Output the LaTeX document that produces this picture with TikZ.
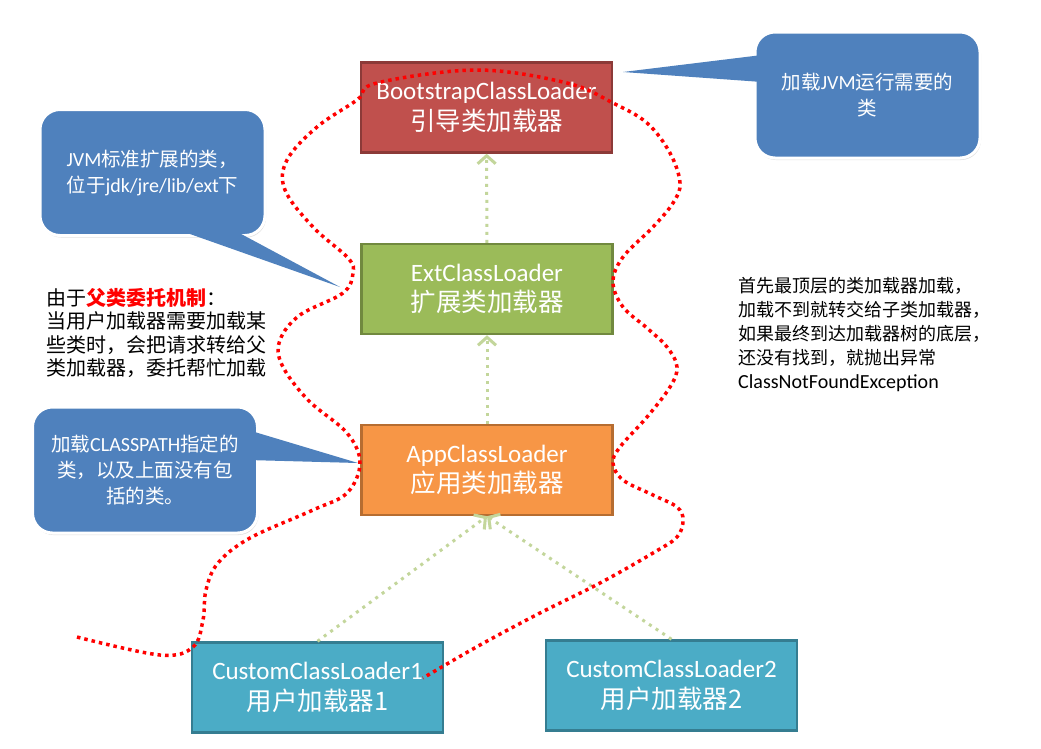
\documentclass[tikz,border=0pt]{standalone}
\usepackage{fontspec}
\setmainfont{Carlito}
\newfontfamily\cjk{Noto Sans CJK SC}
\usetikzlibrary{arrows.meta,positioning,backgrounds,shadows}
\definecolor{bootred}{HTML}{C0504D}
\definecolor{bootline}{HTML}{8C3A38}
\definecolor{extgreen}{HTML}{9BBB59}
\definecolor{extline}{HTML}{71893F}
\definecolor{apporange}{HTML}{F79646}
\definecolor{appline}{HTML}{B66D31}
\definecolor{custteal}{HTML}{4BACC6}
\definecolor{custline}{HTML}{357D91}
\definecolor{noteblue}{HTML}{4F81BD}
\definecolor{parentgreen}{HTML}{C3D69B}
\tikzset{
  loadernode/.style={rectangle,line width=2.5pt,minimum width=251pt,minimum height=90pt,
    inner sep=0pt,align=center,text=white,font=\fontsize{25}{30.5}\selectfont},
  bootnode/.style={loadernode,fill=bootred,draw=bootline},
  extnode/.style={loadernode,fill=extgreen,draw=extline},
  appnode/.style={loadernode,fill=apporange,draw=appline},
  custnode/.style={loadernode,fill=custteal,draw=custline},
  notebox/.style={rectangle,rounded corners=20pt,fill=noteblue,draw=white,line width=3pt,
    minimum width=225pt,minimum height=126pt,text=white,align=center,
    font=\cjk\fontsize{19.5}{26}\selectfont,
    drop shadow={opacity=0.25,shadow xshift=1pt,shadow yshift=-2pt}},
  notetip/.style={fill=noteblue,draw=white,line width=3pt},
  parentedge/.style={-{Straight Barb[length=8pt,width=18pt,line width=3pt]},
    draw=parentgreen,line width=3pt,dash pattern=on 3pt off 5pt},
  delegline/.style={draw=red,line width=3.5pt,dash pattern=on 3.5pt off 4pt},
}
\newcommand{\zh}[1]{{\cjk\fontsize{25.5}{30.5}\selectfont #1}}
\newcommand{\en}[1]{{\rmfamily\fontsize{20}{24}\selectfont #1}}

\begin{document}
\begin{tikzpicture}[x=1pt,y=-1pt]
  \useasboundingbox (0,0) rectangle (1041,748);
  \begin{scope}[on background layer]
    \fill[white] (0,0) rectangle (1041,748);
    \coordinate (boottip) at (623,72);
    \coordinate (exttip) at (340,287);
    \coordinate (apptip) at (358,463);
    \filldraw[notetip] (boottip) -- (762,55) -- (762,82) -- cycle;
    \filldraw[notetip] (exttip) -- (173,228) -- (230,228) -- cycle;
    \filldraw[notetip] (apptip) -- (248,430) -- (248,460) -- cycle;
  \end{scope}

  % callouts
  \node[notebox] (bootnote) at (867.5,95) {加载\en{JVM}运行需要的\\类};
  \node[notebox,align=left] (extnote) at (152.5,172.5) {\en{JVM}标准扩展的类，\\位于\en{jdk/jre/lib/ext}下};
  \node[notebox] (appnote) at (145,470) {加载\en{CLASSPATH}指定的\\类，以及上面没有包\\括的类。};
  \fill[noteblue] (boottip) -- (762,55) -- (762,82) -- cycle;
  \fill[noteblue] (exttip) -- (173,228) -- (230,228) -- cycle;
  \fill[noteblue] (apptip) -- (248,430) -- (248,460) -- cycle;

  % loaders
  \node[bootnode] (boot) at (486.5,107.5) {BootstrapClassLoader\\\zh{引导类加载器}};
  \node[extnode] (ext) at (487,289) {ExtClassLoader\\\zh{扩展类加载器}};
  \node[appnode] (app) at (487,470) {AppClassLoader\\\zh{应用类加载器}};
  \node[custnode] (cust1) at (317.5,687.5) {CustomClassLoader1\\\zh{用户加载器1}};
  \node[custnode] (cust2) at (671.5,685.5) {CustomClassLoader2\\\zh{用户加载器2}};

  \draw[parentedge] (ext) -- (boot);
  \draw[parentedge] (app) -- (ext);
  \draw[parentedge] (cust1.north) -- (app.south);
  \draw[parentedge] (cust2.north) -- (app.south);

  % notes
  \node[anchor=north west,align=left,inner sep=0pt,font=\cjk\fontsize{20}{23.5}\selectfont] (mechtext) at (46,288)
    {由于{\color{red}\bfseries 父类委托机制}：\\当用户加载器需要加载某\\些类时，会把请求转给父\\类加载器，委托帮忙加载};
  \node[anchor=north west,align=left,inner sep=0pt,font=\cjk\fontsize{18}{24}\selectfont] (flowtext) at (738,277)
    {首先最顶层的类加载器加载，\\加载不到就转交给子类加载器，\\如果最终到达加载器树的底层，\\还没有找到，就抛出异常\\\en{ClassNotFoundException}};

  % delegation path
  \draw[delegline] plot[smooth,tension=0.6] coordinates {
    (77,637) (160,655) (193,647) (203,620) (206,590) (218,563) (250,538) (313,510)
    (347,493) (360,463) (347,433) (308,400) (282,365) (280,340) (300,315) (343,293)
    (353,273) (348,258) (313,227) (285,190) (287,160) (317,127) (357,100) (377,83)
    (477,70) (567,83) (613,103) (647,123) (670,153) (680,183) (673,203) (653,227)
    (623,257) (613,282) (623,307) (647,328) (667,347) (677,367) (670,387) (647,417)
    (620,447) (613,463) (623,480) (653,495) (677,507) (683,520) (677,537) (653,553)
    (600,583) (540,613) (480,645) (423,678)};
\end{tikzpicture}
\end{document}
